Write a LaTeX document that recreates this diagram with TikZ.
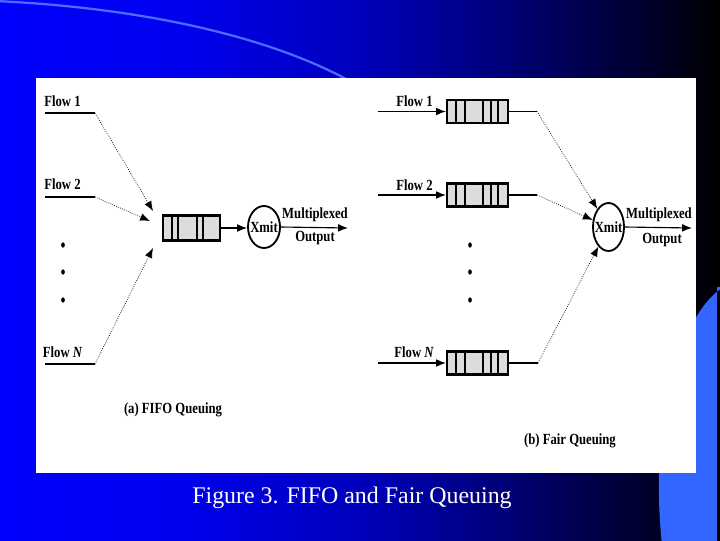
\documentclass[tikz,border=0pt]{standalone}
\usepackage{fontspec}
\setmainfont{Liberation Serif}
\newfontfamily\fqnarrow[FakeStretch=0.82]{Liberation Serif}
\usetikzlibrary{arrows.meta,calc,shapes.geometric}
\definecolor{fqink}{HTML}{000000}
\definecolor{fqblue}{HTML}{0000FF}
\definecolor{fqdeepa}{HTML}{0000F0}
\definecolor{fqdeepb}{HTML}{0000BC}
\definecolor{fqdeepc}{HTML}{00006A}
\definecolor{fqdeepd}{HTML}{00001A}
\definecolor{fqsky}{HTML}{3366FF}
\definecolor{fqarc}{HTML}{4D6BFF}
\definecolor{fqgray}{HTML}{DCDCDC}
\pgfdeclarehorizontalshading{fqslide}{100bp}{color(0bp)=(fqblue); color(25bp)=(fqblue);
  color(37bp)=(fqdeepa); color(50bp)=(fqdeepb); color(62bp)=(fqdeepc); color(72bp)=(fqdeepd);
  color(75bp)=(black); color(100bp)=(black)}
\tikzset{
  fq label/.style={inner sep=0pt, text=fqink,
    font={\fqnarrow\fontsize{11}{13}\selectfont\bfseries}},
  fq queue/.style={draw=fqink, line width=1.5pt, fill=fqgray, inner sep=0pt},
  fq xmit/.style={draw=fqink, line width=1.3pt, ellipse, fill=white, inner sep=0pt},
  fq line/.style={draw=fqink, line width=0.8pt},
  fq arrow/.style={-{Latex[length=7pt,width=5.5pt]}, line width=0.8pt, draw=fqink},
  fq path/.style={-{Latex[length=7pt,width=5.5pt]}, line width=0.5pt, densely dotted,
    draw=fqink},
  fq caption/.style={font={\fontsize{17}{20}\selectfont}, text=white}
}

\begin{document}
\begin{tikzpicture}[x=0.025cm, y=-0.025cm]
  \useasboundingbox (0,0) rectangle (720,540);
  \shade[shading=fqslide] (0,0) rectangle (720,540);
  \draw[fqarc, line width=1.6pt] (-5,1) .. controls (150,8) and (285,40) .. (365,90);
  \fill[fqsky] (725,287) .. controls (700,296) and (645,380) .. (662,545) -- (717,545)
    -- (717,287) -- cycle;
  \fill[white] (36,78) rectangle (696,473);

  \node[fq label] (fa1) at (62.5,101) {Flow 1};
  \node[fq label] (fa2) at (62.5,184) {Flow 2};
  \node[fq label] (faN) at (62.5,352) {Flow \itshape N};
  \coordinate (a1s) at (45,113);
  \coordinate (a1k) at (95,113);
  \coordinate (a1t) at (153,211);
  \coordinate (a2s) at (45,197);
  \coordinate (a2k) at (95,197);
  \coordinate (a2t) at (150,221);
  \coordinate (aNs) at (45,364);
  \coordinate (aNk) at (95,364);
  \coordinate (aNt) at (153,248);
  \foreach \n in {1,2,N} {
    \draw[fq line] (a\n s) -- (a\n k);
    \draw[fq path] (a\n k) -- (a\n t);
  }
  \foreach \y in {245,272,300}
    \fill[fqink] (63,\y) ellipse [x radius=1.3pt, y radius=1.9pt];
  \node[fq queue, minimum width=1.425cm, minimum height=0.625cm] (qa) at (191.5,228) {};
  \foreach \d in {172,178,197,203}
    \draw[fq line] (\d,0 |- qa.north) -- (\d,0 |- qa.south);
  \node[fq xmit, minimum width=0.8cm, minimum height=1.05cm,
    label={[fq label]center:Xmit}] (xa) at (264,227) {};
  \coordinate (oa) at (348,228);
  \draw[fq arrow] (qa.east) -- (qa.east -| xa.west);
  \draw[fq arrow] (xa.east) -- (oa);
  \node[fq label] (ma) at (315,215) {Multiplexed};
  \node[fq label] (pa) at (315,238) {Output};
  \node[fq label] (ta) at (173,410) {(a) FIFO Queuing};

  \node[fq label] (fb1) at (414.5,101) {Flow 1};
  \node[fq label] (fb2) at (414.5,185) {Flow 2};
  \node[fq label] (fbN) at (414,352) {Flow \itshape N};
  \node[fq queue, minimum width=1.525cm, minimum height=0.575cm] (qb1) at (477.5,111.5) {};
  \node[fq queue, minimum width=1.525cm, minimum height=0.575cm] (qb2) at (477.5,195) {};
  \node[fq queue, minimum width=1.525cm, minimum height=0.575cm] (qbN) at (477.5,363) {};
  \foreach \q in {qb1,qb2,qbN}
    \foreach \d in {456,465,483,491,498}
      \draw[fq line] (\d,0 |- \q.north) -- (\d,0 |- \q.south);
  \node[fq xmit, minimum width=0.775cm, minimum height=1.2cm,
    label={[fq label]center:Xmit}] (xb) at (608.5,227) {};
  \coordinate (b1s) at (378,111.5);
  \coordinate (b1k) at (537,111.5);
  \coordinate (b2s) at (378,195);
  \coordinate (b2k) at (537,195);
  \coordinate (bNs) at (378,363);
  \coordinate (bNk) at (538,363);
  \foreach \n in {1,2,N} {
    \draw[fq arrow] (b\n s) -- (qb\n.west);
    \draw[fq line] (qb\n.east) -- (b\n k);
    \draw[fq path] (b\n k) -- (xb);
  }
  \foreach \y in {245,272,300}
    \fill[fqink] (470,\y) ellipse [x radius=1.3pt, y radius=1.9pt];
  \coordinate (ob) at (692,228);
  \draw[fq arrow] (xb.east) -- (ob);
  \node[fq label] (mb) at (659,215) {Multiplexed};
  \node[fq label] (pb) at (662,240) {Output};
  \node[fq label] (tb) at (570,441) {(b) Fair Queuing};

  \node[fq caption] (cap) at (352,498) {Figure 3. FIFO and Fair Queuing};
\end{tikzpicture}
\end{document}
